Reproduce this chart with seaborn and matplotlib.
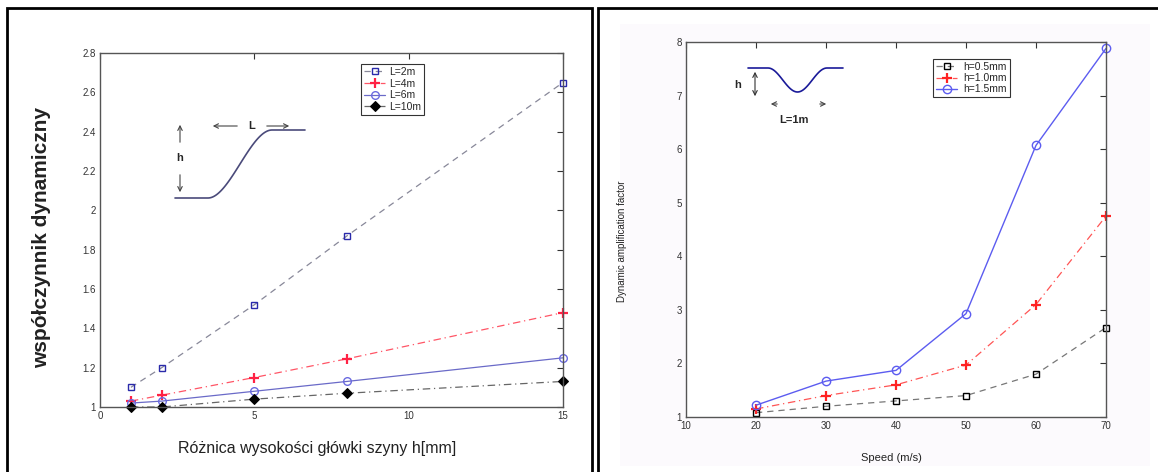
import numpy as np
import matplotlib
matplotlib.use("Agg")
import matplotlib.pyplot as plt
import matplotlib.ticker as mticker
from matplotlib.patches import Rectangle
from matplotlib.lines import Line2D
import seaborn as sns

# left panel: rail head height difference vs dynamic factor
h_mm = [1, 2, 5, 8, 15]
L2m = [1.10, 1.20, 1.52, 1.87, 2.65]
L4m = [1.03, 1.06, 1.15, 1.245, 1.48]
L6m = [1.02, 1.03, 1.08, 1.13, 1.25]
L10m = [1.00, 1.00, 1.04, 1.07, 1.13]

# right panel: speed vs dynamic amplification factor
speed = [20, 30, 40, 50, 60, 70]
h05 = [1.08, 1.20, 1.30, 1.40, 1.80, 2.67]
h10 = [1.15, 1.40, 1.60, 1.97, 3.10, 4.75]
h15 = [1.22, 1.67, 1.87, 2.93, 6.07, 7.88]

sns.set_style("white")
plt.rcParams['font.family'] = ['Liberation Sans', 'DejaVu Sans']

W, H = 1158, 472
fig = plt.figure(figsize=(W / 100, H / 100), dpi=100)


def fx(x):
    return x / W


def fy(y):
    return 1 - y / H


def pix_axes(x0, y0, x1, y1):
    return fig.add_axes([fx(x0), fy(y1), fx(x1 - x0), fy(y0) - fy(y1)])


# panel frames
fig.add_artist(Rectangle((fx(7), fy(480)), fx(585), fy(8) - fy(480), fill=False,
                         lw=2, ec='black', transform=fig.transFigure))
fig.add_artist(Rectangle((fx(598), fy(480)), fx(570), fy(8) - fy(480), fill=False,
                         lw=2, ec='black', transform=fig.transFigure))
fig.add_artist(Rectangle((fx(620), fy(466)), fx(530), fy(24) - fy(466), fc='#fcfafd',
                         ec='none', transform=fig.transFigure, zorder=-1))


def style_axes(ax):
    ax.tick_params(direction='in', top=True, right=True, length=4, width=0.8,
                   labelsize=7, colors='#333333', pad=3)
    for s in ax.spines.values():
        s.set_color('#555555')
        s.set_linewidth(1.0)
    ax.yaxis.set_major_formatter(mticker.FormatStrFormatter('%g'))
    ax.xaxis.set_major_formatter(mticker.FormatStrFormatter('%g'))


# ---------- left ----------
ax1 = pix_axes(100, 53, 563, 407)
sns.lineplot(x=h_mm, y=L2m, ax=ax1, color='#888899', linestyle=(0, (5, 4)), lw=0.9,
             marker='s', ms=4.5, markerfacecolor='none', markeredgecolor='#2a2aaa',
             markeredgewidth=1, label='L=2m', clip_on=False)
sns.lineplot(x=h_mm, y=L4m, ax=ax1, color='#ff5566', linestyle=(0, (6, 3, 1, 3)), lw=0.9,
             marker='+', ms=7, markeredgecolor='#ff2244', markeredgewidth=1.6, label='L=4m',
             clip_on=False)
sns.lineplot(x=h_mm, y=L6m, ax=ax1, color='#6a6ac8', linestyle='-', lw=0.9,
             marker='o', ms=5.5, markerfacecolor='none', markeredgecolor='#6a6ae0',
             markeredgewidth=1, label='L=6m', clip_on=False)
sns.lineplot(x=h_mm, y=L10m, ax=ax1, color='#666666', linestyle=(0, (6, 3, 1, 3)), lw=0.9,
             marker='D', ms=5, markerfacecolor='black', markeredgecolor='black', label='L=10m',
             clip_on=False)
ax1.set_xlim(0, 15)
ax1.set_ylim(1, 2.8)
ax1.set_xticks([0, 5, 10, 15])
ax1.set_yticks(np.arange(1, 2.81, 0.2))
style_axes(ax1)
ax1.set_ylabel('współczynnik dynamiczny', fontsize=15, fontweight='bold', color='#222222')
ax1.yaxis.set_label_coords(-0.105, 0.48)
ax1.set_xlabel('Różnica wysokości główki szyny h[mm]', fontsize=11.5, color='#222222')
ax1.xaxis.set_label_coords(0.47, -0.095)
leg1 = ax1.legend(loc='upper left', bbox_to_anchor=(fx(361), fy(64)),
                  bbox_transform=fig.transFigure, fontsize=7.5, frameon=True,
                  fancybox=False, handlelength=2.0, handletextpad=0.4,
                  borderpad=0.3, labelspacing=0.15, borderaxespad=0)
leg1.get_frame().set_edgecolor('black')
leg1.get_frame().set_linewidth(0.8)

# inset sketch (left): smooth step
t = np.linspace(0, 1, 60)
xs = np.concatenate([[175], 208 + 64 * t, [305]])
ys = np.concatenate([[198], 198 - 68 * (3 * t ** 2 - 2 * t ** 3), [130]])
fig.add_artist(Line2D(fx(xs), fy(ys), color='#4a4a7a', lw=1.2, transform=fig.transFigure))
arr = dict(arrowstyle='->', color='#444444', lw=0.8, mutation_scale=8)
fig.text(fx(180), fy(158), 'h', fontsize=8, fontweight='bold', ha='center', va='center')
ax1.annotate('', xy=(fx(180), fy(122)), xytext=(fx(180), fy(145)), xycoords='figure fraction',
             textcoords='figure fraction', arrowprops=arr)
ax1.annotate('', xy=(fx(180), fy(195)), xytext=(fx(180), fy(172)), xycoords='figure fraction',
             textcoords='figure fraction', arrowprops=arr)
fig.text(fx(252), fy(126), 'L', fontsize=8, fontweight='bold', ha='center', va='center')
ax1.annotate('', xy=(fx(210), fy(126)), xytext=(fx(240), fy(126)), xycoords='figure fraction',
             textcoords='figure fraction', arrowprops=arr)
ax1.annotate('', xy=(fx(292), fy(126)), xytext=(fx(264), fy(126)), xycoords='figure fraction',
             textcoords='figure fraction', arrowprops=arr)

# ---------- right ----------
ax2 = pix_axes(686, 42, 1106, 417)
ax2.set_facecolor('white')
sns.lineplot(x=speed, y=h05, ax=ax2, color='#777777', linestyle=(0, (5, 4)), lw=0.9,
             marker='s', ms=5, markerfacecolor='none', markeredgecolor='black',
             markeredgewidth=1, label='h=0.5mm', clip_on=False)
sns.lineplot(x=speed, y=h10, ax=ax2, color='#ff5555', linestyle=(0, (6, 3, 1, 3)), lw=0.9,
             marker='+', ms=7, markeredgecolor='#ff2222', markeredgewidth=1.6, label='h=1.0mm',
             clip_on=False)
sns.lineplot(x=speed, y=h15, ax=ax2, color='#5c5cf0', linestyle='-', lw=1.0,
             marker='o', ms=6, markerfacecolor='none', markeredgecolor='#5c5cf0',
             markeredgewidth=1, label='h=1.5mm', clip_on=False)
ax2.set_xlim(10, 70)
ax2.set_ylim(1, 8)
ax2.set_xticks(range(10, 71, 10))
ax2.set_yticks(range(1, 9))
style_axes(ax2)
ax2.set_ylabel('Dynamic amplification factor', fontsize=7, color='#222222')
ax2.yaxis.set_label_coords(-0.14, 0.47)
ax2.set_xlabel('Speed (m/s)', fontsize=8, color='#222222')
ax2.xaxis.set_label_coords(0.49, -0.095)
leg2 = ax2.legend(loc='upper left', bbox_to_anchor=(fx(933), fy(59)),
                  bbox_transform=fig.transFigure, fontsize=7.5, frameon=True,
                  fancybox=False, handlelength=2.0, handletextpad=0.6,
                  borderpad=0.3, labelspacing=0.1, borderaxespad=0)
leg2.get_frame().set_edgecolor('black')
leg2.get_frame().set_linewidth(0.8)

# inset sketch (right): cosine dip
t2 = np.linspace(0, 1, 60)
xs2 = np.concatenate([[748], 768 + 59 * t2, [843]])
ys2 = np.concatenate([[68], 68 + 12 * (1 - np.cos(2 * np.pi * t2)), [68]])
fig.add_artist(Line2D(fx(xs2), fy(ys2), color='#1a1a99', lw=1.2, transform=fig.transFigure))
fig.text(fx(738), fy(85), 'h', fontsize=8, fontweight='bold', ha='center', va='center')
arr2 = dict(arrowstyle='<->', color='#333333', lw=0.8, mutation_scale=8)
ax2.annotate('', xy=(fx(755), fy(69)), xytext=(fx(755), fy(99)), xycoords='figure fraction',
             textcoords='figure fraction', arrowprops=arr2)
ax2.annotate('', xy=(fx(768), fy(104)), xytext=(fx(780), fy(104)), xycoords='figure fraction',
             textcoords='figure fraction', arrowprops=arr)
ax2.annotate('', xy=(fx(829), fy(104)), xytext=(fx(817), fy(104)), xycoords='figure fraction',
             textcoords='figure fraction', arrowprops=arr)
fig.text(fx(794), fy(120), 'L=1m', fontsize=8, fontweight='bold', ha='center', va='center')

fig.savefig('out.png', dpi=100)
